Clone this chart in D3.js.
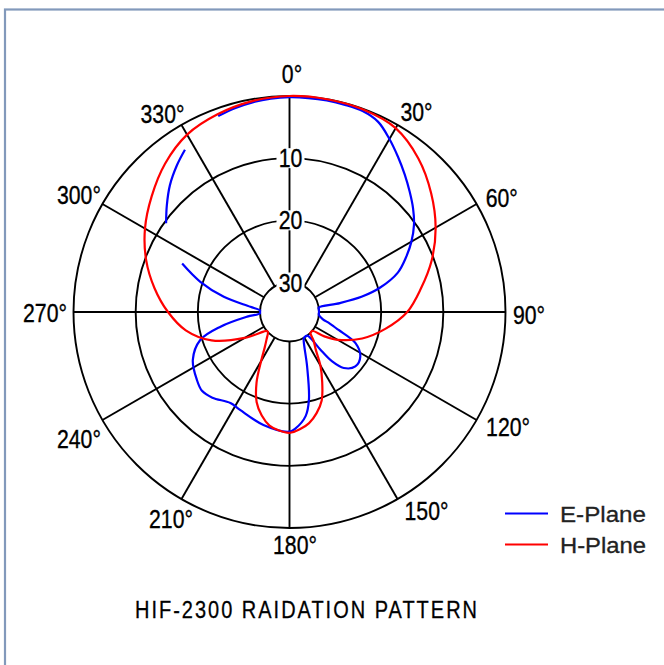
<!DOCTYPE html>
<html><head><meta charset="utf-8">
<script src="https://cdn.jsdelivr.net/npm/d3@7"></script>
<style>html,body{margin:0;padding:0;background:#fff;overflow:hidden;} svg{display:block;}</style>
</head><body>
<svg id="chart" width="664" height="665"></svg>
<script>
// ---- data ----
const ringLevels = [0, 10, 20, 30];
const ringLabels = ["10", "20", "30"];
const spokeAngles = [0, 30, 60, 90, 120, 150, 180, 210, 240, 270, 300, 330];
const angleLabels = ["0°", "30°", "60°", "90°", "120°", "150°", "180°", "210°", "240°", "270°", "300°", "330°"];
const seriesNames = ["E-Plane", "H-Plane"];
const seriesColors = ["#0000ff", "#ff0000"];
const chartTitle = "HIF-2300 RAIDATION PATTERN";

// E-Plane: angle (deg) and attenuation (dB); null = gap in the trace
const eAngles = [340, 345, 350, 355, 0, 5, 10, 15, 20, 25, 30, 35, 40, 45, 50, 55, 60, 65, 70, 75, 78, 80, 81.5, 85, 90,
  95.5, 102, 106, 110, 115.3, 122.1, 129.6, 135.9, 139.3, 140.6, 141.1, 143, 150,
  152.6, 162, 167.5, 171.2, 177, 180, 193, 206.8, 213, 222, 228, 234, 243.7, 252.6, 258, 263.7, 267.5, 270,
  273, 277.6, 283, 288.7, 294.3, 300, 305.7, 311, 316.7, 322.5, 327.2];
const eDb = [1.2, 0.8, 0.5, 0.3, 0.2, 0.2, 0.2, 0.25, 0.35, 1.0, 2.6, 4.3, 5.9, 7.4, 8.8, 10.3, 12.1, 14.1, 16.2, 19.7, 22.8, 26.5, 30.0, 30.5, 30.5,
  30.0, 29.3, 28.0, 26.4, 23.0, 21.3, 21.0, 22.2, 24.3, 26.9, 29.4, 30.5, 30.5,
  29.8, 25.6, 20.3, 17.8, 16.0, 15.5, 16.1, 17.1, 17.3, 16.2, 15.8, 16.3, 17.4, 19.7, 23.4, 27.9, 30.0, 30.5,
  30.0, 28.4, 23.9, 19.6, 15.8, null, 10.3, 8.6, 6.7, 5.0, 3.7];

// H-Plane
const hAngles = [0, 10, 20, 30, 40, 50, 60, 70, 80, 90, 100, 110, 120, 125, 129.6, 132, 135,
  140, 145, 150, 155, 160, 165, 170, 175, 180, 185, 190, 195, 200, 205, 210, 215, 220, 227, 230, 233,
  240, 250, 260, 270, 280, 290, 300, 310, 320, 330, 340, 350];
const hDb = [0, 0, 0.1, 0.6, 2.5, 5.0, 7.6, 10.4, 13.3, 15.8, 19.1, 22.3, 25.8, 27.9, 30.0, 30.5, 30.0,
  28.7, 27.4, 24.8, 22.3, 19.6, 17.9, 16.6, 15.8, 15.3, 15.6, 16.2, 17.5, 19.3, 22.2, 25.6, 27.8, 29.0, 30.0, 30.5, 29.5,
  26.4, 21.4, 17.8, 15.2, 12.7, 10.2, 7.9, 5.8, 3.6, 1.8, 0.9, 0.3];

// ---- drawing ----
const svg = d3.select("#chart");
const cx = 289.5, cy = 312;
const font = "'Liberation Sans', Arial, sans-serif";
const squeeze = 0.85; // condensed lettering

// frame
svg.append("rect").attr("x", 5).attr("y", 9.5).attr("width", 700).attr("height", 700)
  .attr("fill", "none").attr("stroke", "#8299bb").attr("stroke-width", 2.2);

const g = svg.append("g").attr("transform", `translate(${cx},${cy})`);
const r = d3.scaleLinear().domain([0, 30]).range([216, 29.5]).clamp(true);
const rad = d => d * Math.PI / 180;

// rings
g.selectAll("circle.ring").data(ringLevels).join("circle")
  .attr("class", "ring").attr("r", d => r(d))
  .attr("fill", "none").attr("stroke", "#000").attr("stroke-width", 1.9);

// spokes
g.selectAll("line.spoke").data(spokeAngles).join("line")
  .attr("x1", d => r(30) * Math.sin(rad(d))).attr("y1", d => -r(30) * Math.cos(rad(d)))
  .attr("x2", d => r(0) * Math.sin(rad(d))).attr("y2", d => -r(0) * Math.cos(rad(d)))
  .attr("stroke", "#000").attr("stroke-width", 1.9);

// ring labels
const rl = g.selectAll("g.rl").data(ringLabels).join("g")
  .attr("transform", (d, i) => `translate(1,${-r(ringLevels[i + 1])})`);
rl.append("rect").attr("x", -14).attr("y", -10).attr("width", 28).attr("height", 20).attr("fill", "#fff");
rl.append("text").attr("text-anchor", "middle").attr("y", 9)
  .attr("transform", `scale(${squeeze},1)`)
  .attr("font-family", font).attr("font-size", 25).attr("fill", "#000")
  .attr("stroke", "#000").attr("stroke-width", 0.35).text(d => d);

// angle labels (placed just outside the outer ring, with small hand nudges as in the original drawing)
const labelNudge = [[0.5, 2], [5, 8], [2.4, 6], [-2.5, 3], [8.7, -5], [15, -9], [3.5, -7], [-0.5, -1], [-4.7, 7], [-6.5, 1], [-4.7, 3], [-9, 10]];
g.selectAll("g.al").data(angleLabels).join("g")
  .attr("class", "al")
  .attr("transform", (d, i) => {
    const x = 240 * Math.sin(rad(spokeAngles[i])) + 2 + labelNudge[i][0];
    const y = -240 * Math.cos(rad(spokeAngles[i])) + 9 + labelNudge[i][1];
    return `translate(${x},${y}) scale(${squeeze},1)`;
  })
  .append("text").attr("text-anchor", "middle")
  .attr("font-family", font).attr("font-size", 25).attr("fill", "#000")
  .attr("stroke", "#000").attr("stroke-width", 0.35).text(d => d);

// series
const ePts = eAngles.map((a, i) => ({ a, v: eDb[i] }));
const hPts = hAngles.map((a, i) => ({ a, v: hDb[i] }));

const eLine = d3.lineRadial().angle(d => rad(d.a)).radius(d => r(d.v))
  .defined(d => d.v != null).curve(d3.curveCatmullRom.alpha(0.5));
const hLine = d3.lineRadial().angle(d => rad(d.a)).radius(d => r(d.v))
  .curve(d3.curveCatmullRomClosed.alpha(0.5));

g.append("path").attr("d", eLine(ePts)).attr("fill", "none")
  .attr("stroke", seriesColors[0]).attr("stroke-width", 2.2);
g.append("path").attr("d", hLine(hPts)).attr("fill", "none")
  .attr("stroke", seriesColors[1]).attr("stroke-width", 2.2);

// legend
const lg = svg.append("g").selectAll("g").data(seriesNames).join("g")
  .attr("transform", (d, i) => `translate(0,${513.5 + i * 31})`);
lg.append("line").attr("x1", 505).attr("x2", 548).attr("y1", 0).attr("y2", 0)
  .attr("stroke", (d, i) => seriesColors[i]).attr("stroke-width", 2.2);
lg.append("text").attr("x", 560).attr("y", 8.3)
  .attr("font-family", font).attr("font-size", 22)
  .attr("textLength", 86).attr("lengthAdjust", "spacingAndGlyphs")
  .attr("fill", "#222").attr("stroke", "#222").attr("stroke-width", 0.3).text(d => d);

// title
svg.append("g").attr("transform", `translate(135,618.3) scale(${squeeze},1)`)
  .append("text").attr("x", 0).attr("y", 0)
  .attr("font-family", font).attr("font-size", 23.5)
  .attr("textLength", 342 / squeeze).attr("lengthAdjust", "spacing")
  .attr("fill", "#000").attr("stroke", "#000").attr("stroke-width", 0.3).text(chartTitle);
</script>
</body></html>
